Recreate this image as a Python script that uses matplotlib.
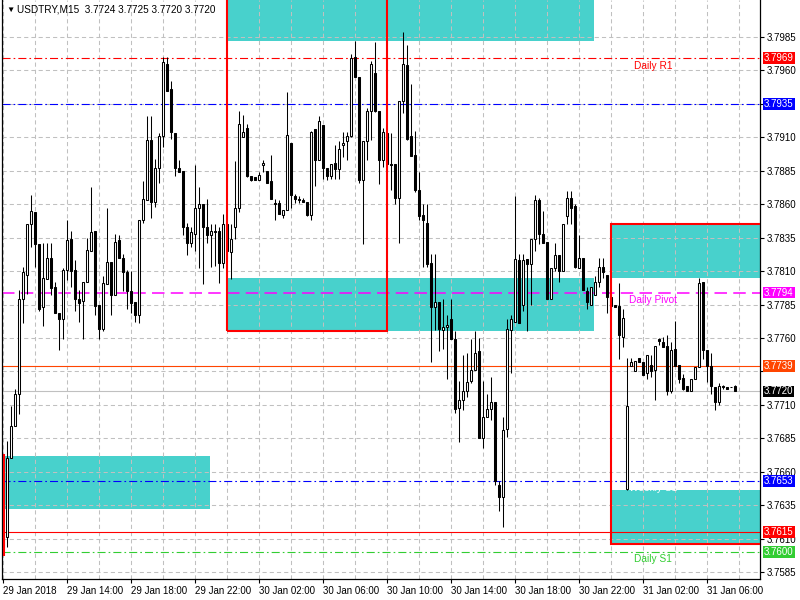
import matplotlib
matplotlib.use('Agg')
import matplotlib.pyplot as plt
from matplotlib import patches, transforms
import numpy as np

plt.rcParams['font.family'] = ['Liberation Sans', 'DejaVu Sans']
plt.rcParams['lines.scale_dashes'] = False

# USDTRY M15 candles, 29 Jan 10:00 -> 31 Jan 07:45
opens = [3.7603, 3.7611, 3.7670, 3.7694, 3.7718, 3.7789, 3.7807, 3.7845, 3.7854, 3.7830,
         3.7783, 3.7804, 3.7820, 3.7798, 3.7779, 3.7774, 3.7811, 3.7834, 3.7811, 3.7789,
         3.7788, 3.7802, 3.7825, 3.7840, 3.7785, 3.7767, 3.7800, 3.7817, 3.7792, 3.7833,
         3.7820, 3.7809, 3.7795, 3.7787, 3.7777, 3.7848, 3.7863, 3.7908, 3.7862, 3.7887,
         3.7911, 3.7965, 3.7946, 3.7913, 3.7887, 3.7885, 3.7843, 3.7831, 3.7838, 3.7857,
         3.7860, 3.7843, 3.7837, 3.7840, 3.7840, 3.7816, 3.7845, 3.7824, 3.7843, 3.7857,
         3.7910, 3.7917, 3.7881, 3.7880, 3.7878, 3.7889, 3.7885, 3.7877, 3.7861, 3.7861,
         3.7852, 3.7856, 3.7906, 3.7866, 3.7864, 3.7863, 3.7862, 3.7852, 3.7916, 3.7893,
         3.7919, 3.7887, 3.7881, 3.7891, 3.7886, 3.7904, 3.7907, 3.7911, 3.7970, 3.7955,
         3.7878, 3.7907, 3.7930, 3.7958, 3.7930, 3.7893, 3.7913, 3.7890, 3.7890, 3.7865,
         3.7937, 3.7964, 3.7911, 3.7897, 3.7871, 3.7852, 3.7846, 3.7816, 3.7783, 3.7787,
         3.7766, 3.7768, 3.7774, 3.7759, 3.7708, 3.7714, 3.7720, 3.7728, 3.7736, 3.7750,
         3.7685, 3.7701, 3.7707, 3.7712, 3.7650, 3.7641, 3.7692, 3.7766, 3.7772, 3.7818,
         3.7785, 3.7819, 3.7815, 3.7834, 3.7863, 3.7838, 3.7832, 3.7789, 3.7812, 3.7822,
         3.7810, 3.7851, 3.7865, 3.7859, 3.7812, 3.7820, 3.7795, 3.7785, 3.7792, 3.7802,
         3.7813, 3.7807, 3.7791, 3.7785, 3.7784, 3.7761, 3.7647, 3.7739, 3.7735, 3.7745,
         3.7742, 3.7734, 3.7740, 3.7736, 3.7759, 3.7757, 3.7754, 3.7720, 3.7752, 3.7740,
         3.7730, 3.7724, 3.7720, 3.7729, 3.7738, 3.7802, 3.7751, 3.7739, 3.7723, 3.7712,
         3.7724, 3.7723, 3.7723, 3.7724]
highs = [3.7613, 3.7683, 3.7709, 3.7722, 3.7796, 3.7813, 3.7845, 3.7867, 3.7854, 3.7830,
         3.7831, 3.7831, 3.7831, 3.7802, 3.7779, 3.7812, 3.7848, 3.7840, 3.7818, 3.7796,
         3.7802, 3.7835, 3.7873, 3.7840, 3.7785, 3.7806, 3.7857, 3.7817, 3.7838, 3.7837,
         3.7823, 3.7811, 3.7810, 3.7787, 3.7848, 3.7877, 3.7926, 3.7926, 3.7894, 3.7913,
         3.7970, 3.7970, 3.7952, 3.7913, 3.7893, 3.7885, 3.7846, 3.7843, 3.7889, 3.7873,
         3.7860, 3.7864, 3.7845, 3.7845, 3.7843, 3.7853, 3.7845, 3.7845, 3.7892, 3.7930,
         3.7927, 3.7920, 3.7881, 3.7880, 3.7884, 3.7893, 3.7885, 3.7897, 3.7864, 3.7863,
         3.7856, 3.7944, 3.7906, 3.7868, 3.7866, 3.7865, 3.7862, 3.7915, 3.7916, 3.7926,
         3.7919, 3.7887, 3.7890, 3.7904, 3.7907, 3.7914, 3.7914, 3.7972, 3.7982, 3.7955,
         3.7907, 3.7932, 3.7967, 3.7981, 3.7930, 3.7917, 3.7913, 3.7913, 3.7890, 3.7937,
         3.7989, 3.7979, 3.7950, 3.7915, 3.7884, 3.7860, 3.7860, 3.7823, 3.7823, 3.7787,
         3.7789, 3.7777, 3.7789, 3.7765, 3.7728, 3.7747, 3.7749, 3.7759, 3.7765, 3.7760,
         3.7728, 3.7718, 3.7731, 3.7712, 3.7653, 3.7701, 3.7774, 3.7777, 3.7866, 3.7823,
         3.7823, 3.7819, 3.7834, 3.7867, 3.7865, 3.7855, 3.7832, 3.7812, 3.7831, 3.7822,
         3.7845, 3.7870, 3.7870, 3.7860, 3.7837, 3.7820, 3.7798, 3.7798, 3.7806, 3.7820,
         3.7820, 3.7807, 3.7793, 3.7785, 3.7801, 3.7782, 3.7745, 3.7745, 3.7743, 3.7745,
         3.7742, 3.7747, 3.7747, 3.7754, 3.7760, 3.7761, 3.7762, 3.7757, 3.7773, 3.7740,
         3.7733, 3.7724, 3.7729, 3.7738, 3.7805, 3.7802, 3.7751, 3.7749, 3.7723, 3.7726,
         3.7725, 3.7723, 3.7723, 3.7725]
lows = [3.7599, 3.7604, 3.7670, 3.7694, 3.7703, 3.7771, 3.7793, 3.7828, 3.7813, 3.7780,
        3.7769, 3.7804, 3.7792, 3.7779, 3.7751, 3.7759, 3.7803, 3.7798, 3.7780, 3.7772,
        3.7759, 3.7802, 3.7825, 3.7777, 3.7759, 3.7765, 3.7800, 3.7777, 3.7792, 3.7820,
        3.7795, 3.7782, 3.7779, 3.7772, 3.7771, 3.7846, 3.7863, 3.7850, 3.7858, 3.7876,
        3.7903, 3.7945, 3.7909, 3.7881, 3.7884, 3.7837, 3.7822, 3.7828, 3.7825, 3.7812,
        3.7800, 3.7831, 3.7813, 3.7814, 3.7801, 3.7812, 3.7820, 3.7804, 3.7834, 3.7854,
        3.7910, 3.7880, 3.7877, 3.7878, 3.7878, 3.7884, 3.7876, 3.7864, 3.7848, 3.7853,
        3.7850, 3.7856, 3.7857, 3.7861, 3.7861, 3.7862, 3.7851, 3.7848, 3.7874, 3.7893,
        3.7879, 3.7878, 3.7879, 3.7879, 3.7879, 3.7895, 3.7893, 3.7910, 3.7955, 3.7876,
        3.7830, 3.7893, 3.7908, 3.7929, 3.7875, 3.7888, 3.7885, 3.7871, 3.7860, 3.7831,
        3.7928, 3.7908, 3.7896, 3.7869, 3.7848, 3.7813, 3.7813, 3.7742, 3.7766, 3.7750,
        3.7752, 3.7729, 3.7759, 3.7704, 3.7682, 3.7706, 3.7716, 3.7726, 3.7736, 3.7685,
        3.7678, 3.7701, 3.7699, 3.7650, 3.7631, 3.7619, 3.7686, 3.7734, 3.7772, 3.7771,
        3.7780, 3.7765, 3.7785, 3.7825, 3.7830, 3.7831, 3.7789, 3.7789, 3.7810, 3.7802,
        3.7810, 3.7845, 3.7845, 3.7812, 3.7812, 3.7796, 3.7782, 3.7785, 3.7792, 3.7798,
        3.7805, 3.7779, 3.7780, 3.7783, 3.7744, 3.7753, 3.7646, 3.7739, 3.7735, 3.7742,
        3.7732, 3.7729, 3.7731, 3.7714, 3.7755, 3.7753, 3.7717, 3.7719, 3.7739, 3.7726,
        3.7721, 3.7720, 3.7720, 3.7729, 3.7738, 3.7744, 3.7727, 3.7718, 3.7706, 3.7710,
        3.7722, 3.7722, 3.7723, 3.7720]
closes = [3.7611, 3.7670, 3.7694, 3.7718, 3.7789, 3.7809, 3.7845, 3.7855, 3.7830, 3.7782,
          3.7805, 3.7820, 3.7797, 3.7779, 3.7774, 3.7811, 3.7833, 3.7810, 3.7789, 3.7786,
          3.7802, 3.7826, 3.7839, 3.7784, 3.7767, 3.7801, 3.7817, 3.7792, 3.7832, 3.7820,
          3.7809, 3.7795, 3.7786, 3.7777, 3.7848, 3.7864, 3.7908, 3.7862, 3.7887, 3.7911,
          3.7966, 3.7945, 3.7914, 3.7887, 3.7884, 3.7843, 3.7831, 3.7839, 3.7857, 3.7860,
          3.7843, 3.7837, 3.7840, 3.7839, 3.7816, 3.7845, 3.7825, 3.7834, 3.7857, 3.7920,
          3.7914, 3.7881, 3.7878, 3.7878, 3.7882, 3.7891, 3.7876, 3.7864, 3.7860, 3.7853,
          3.7856, 3.7912, 3.7867, 3.7864, 3.7863, 3.7862, 3.7852, 3.7914, 3.7893, 3.7922,
          3.7887, 3.7881, 3.7890, 3.7886, 3.7901, 3.7906, 3.7911, 3.7969, 3.7955, 3.7878,
          3.7907, 3.7930, 3.7965, 3.7930, 3.7893, 3.7914, 3.7890, 3.7889, 3.7865, 3.7937,
          3.7965, 3.7909, 3.7896, 3.7871, 3.7851, 3.7848, 3.7815, 3.7783, 3.7787, 3.7767,
          3.7768, 3.7770, 3.7759, 3.7707, 3.7714, 3.7720, 3.7727, 3.7736, 3.7749, 3.7685,
          3.7701, 3.7707, 3.7712, 3.7653, 3.7641, 3.7691, 3.7767, 3.7774, 3.7819, 3.7771,
          3.7818, 3.7815, 3.7834, 3.7863, 3.7838, 3.7831, 3.7789, 3.7812, 3.7822, 3.7810,
          3.7845, 3.7865, 3.7857, 3.7813, 3.7820, 3.7796, 3.7787, 3.7798, 3.7802, 3.7813,
          3.7809, 3.7791, 3.7784, 3.7783, 3.7762, 3.7775, 3.7709, 3.7742, 3.7743, 3.7742,
          3.7732, 3.7747, 3.7735, 3.7754, 3.7758, 3.7753, 3.7720, 3.7751, 3.7739, 3.7729,
          3.7722, 3.7720, 3.7729, 3.7738, 3.7801, 3.7751, 3.7739, 3.7724, 3.7712, 3.7724,
          3.7723, 3.7722, 3.7723, 3.7720]

# time axis labels (one every 16 bars = 4 hours)
tick_labels = ['29 Jan 2018', '29 Jan 14:00', '29 Jan 18:00', '29 Jan 22:00',
               '30 Jan 02:00', '30 Jan 06:00', '30 Jan 10:00', '30 Jan 14:00',
               '30 Jan 18:00', '30 Jan 22:00', '31 Jan 02:00', '31 Jan 06:00']
price_ticks = [3.7585, 3.7610, 3.7635, 3.7660, 3.7685, 3.7710, 3.7735, 3.7760, 3.7785,
               3.7810, 3.7835, 3.7860, 3.7885, 3.7910, 3.7935, 3.7960, 3.7985]
# scale labels hidden under the coloured price boxes
hidden_ticks = [3.7735, 3.7935]

# horizontal levels
level_prices = [3.7969, 3.7935, 3.7794, 3.7739, 3.7653, 3.7615, 3.7600]
level_names = ['Daily R1', '', 'Daily Pivot', '', 'Weekly S1', '', 'Daily S1']

# supply / demand zones (bar index from, bar index to, top, bottom)
zone_from = [56, 56, -0.1, 152, 152]
zone_to = [147.7, 147.7, 51.7, 195, 195]
zone_top = [3.8030, 3.7805, 3.7672, 3.7845, 3.7646]
zone_bottom = [3.7982, 3.7765, 3.7632, 3.7805, 3.7607]

# red frames
frame_from = [56, 152]
frame_to = [95.85, 195]
frame_top = [3.8030, 3.7845]
frame_bottom = [3.7765, 3.7606]

dashdot = (0, (5.8, 2.2, 1.2, 2.2))
level_style = {
    3.7969: dict(color='#ff0000', ls=dashdot, lw=0.8),
    3.7935: dict(color='#0000ff', ls=dashdot, lw=0.8),
    3.7794: dict(color='#ff00ff', ls=(0, (9, 4.5)), lw=1.1),
    3.7739: dict(color='#ff4500', ls='-', lw=0.8),
    3.7653: dict(color='#0000ff', ls=dashdot, lw=0.8),
    3.7615: dict(color='#ff0000', ls='-', lw=0.8),
    3.7600: dict(color='#32cd32', ls=dashdot, lw=0.8),
}

o = np.array(opens)
h = np.array(highs)
l = np.array(lows)
c = np.array(closes)
x = np.arange(len(o))

fig = plt.figure(figsize=(8, 6), dpi=100)
ax = fig.add_axes([2 / 800, 21 / 600, 758 / 800, 579 / 600])
ax.set_xlim(-0.325, 189.2)
ax.set_ylim(3.75798, 3.80127)

# zones
for x0, x1, top, bot in zip(zone_from, zone_to, zone_top, zone_bottom):
    ax.add_patch(patches.Rectangle((x0, bot), x1 - x0, top - bot,
                                   facecolor='#48d1cc', edgecolor='none', zorder=0.5))

# grid
for gx in range(0, 190, 8):
    ax.axvline(gx, color='#c0c0c0', lw=0.75, ls=(0, (3, 2.2)), zorder=1)
for gy in price_ticks:
    ax.axhline(gy, color='#c0c0c0', lw=0.75, ls=(0, (3, 2.2)), zorder=1)

# levels
for p in level_prices:
    st = level_style[p]
    ax.axhline(p, color=st['color'], lw=st['lw'], ls=st['ls'], zorder=2)
ax.axhline(c[-1], color='#c0c0c0', lw=0.8, zorder=2)

# candles
up = c >= o
ax.vlines(x, l, h, color='black', lw=0.75, zorder=3)
ax.bar(x, np.abs(c - o), bottom=np.minimum(o, c), width=0.5,
       color=np.where(up, 'white', 'black'), edgecolor='black', linewidth=0.75, zorder=4)

# level names
name_colors = ['#ff0000', '#0000ff', '#ff00ff', '#ff4500', 'white', '#ff0000', '#32cd32']
for p, name, col in zip(level_prices, level_names, name_colors):
    if name:
        ax.annotate(name, xy=(162.4, p), xytext=(0, -1.5), textcoords='offset points',
                    ha='center', va='top', fontsize=7.3, color=col, zorder=6)

# red frames
for x0, x1, top, bot in zip(frame_from, frame_to, frame_top, frame_bottom):
    ax.add_patch(patches.Rectangle((x0, bot), x1 - x0, top - bot, fill=False,
                                   edgecolor='#ff0000', lw=1.5, zorder=5, clip_on=True))
ax.vlines(0.15, 3.7597, 3.7673, color='#ff0000', lw=1.5, zorder=5)

# axes styling
for side in ['left', 'right', 'bottom']:
    ax.spines[side].set_linewidth(0.9)
    ax.spines[side].set_color('black')
ax.spines['top'].set_visible(False)

ax.yaxis.tick_right()
ax.set_yticks(price_ticks)
ax.set_yticklabels(['' if t in hidden_ticks else f'{t:.4f}' for t in price_ticks])
ax.set_xticks(np.arange(len(tick_labels)) * 16)
ax.set_xticklabels(tick_labels)
for lbl in ax.get_xticklabels():
    lbl.set_horizontalalignment('left')
ax.tick_params(axis='both', direction='out', length=3, width=0.8, labelsize=7, colors='black')
ax.tick_params(axis='y', pad=2)
ax.tick_params(axis='x', pad=2)

# price boxes on the right scale
trans = transforms.blended_transform_factory(ax.transAxes, ax.transData)
for p in level_prices:
    ax.text(1.0 + 4 / 758, p, f'{p:.4f}', transform=trans, ha='left', va='center',
            fontsize=7, color='white', zorder=10, clip_on=False,
            bbox=dict(boxstyle='square,pad=0.1', facecolor=level_style[p]['color'],
                      edgecolor='none'))
ax.text(1.0 + 4 / 758, c[-1], f'{c[-1]:.4f}', transform=trans, ha='left', va='center',
        fontsize=7, color='white', zorder=10, clip_on=False,
        bbox=dict(boxstyle='square,pad=0.1', facecolor='black', edgecolor='none'))

# header
fig.text(6 / 800, 1 - 10 / 600, '\u25bc', fontsize=6, ha='left', va='center', color='black')
fig.text(17 / 800, 1 - 10 / 600,
         f'USDTRY,M15  {o[-1]:.4f} {h[-1]:.4f} {l[-1]:.4f} {c[-1]:.4f}',
         fontsize=7.2, ha='left', va='center', color='black')

fig.savefig('out.png', dpi=100)
